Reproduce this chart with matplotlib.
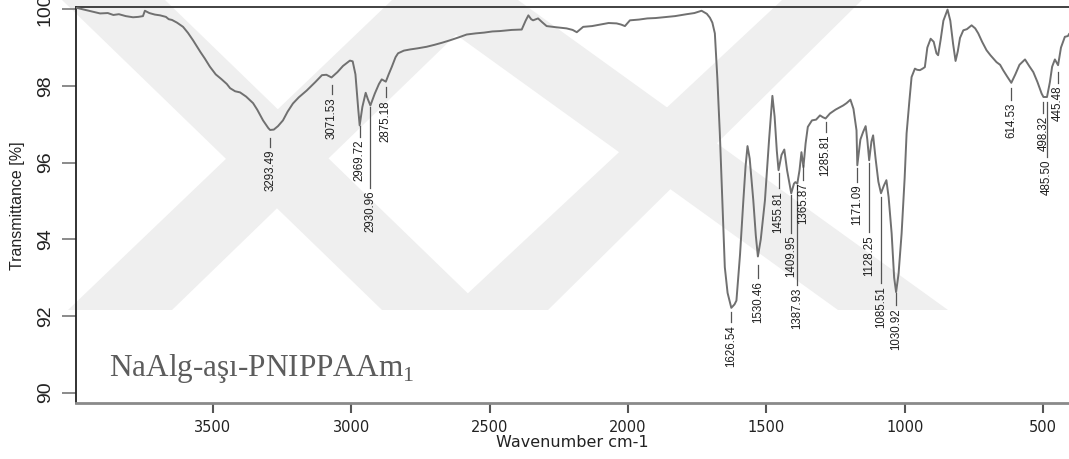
import numpy as np
import matplotlib
matplotlib.use("Agg")
import matplotlib.pyplot as plt
from matplotlib.patches import Polygon
from matplotlib.transforms import offset_copy

plt.rcParams["mathtext.fontset"] = "custom"
plt.rcParams["mathtext.rm"] = "Liberation Serif"

# FTIR spectrum (wavenumber cm-1, transmittance %)
wavenumber = [3995, 3960, 3930, 3908, 3880, 3860, 3840, 3815, 3789, 3770, 3753, 3746,
              3730, 3710, 3691, 3670, 3660, 3648, 3630, 3608, 3590, 3572, 3545, 3530,
              3511, 3490, 3470, 3450, 3438, 3420, 3402, 3380, 3355, 3340, 3319, 3300,
              3293.49, 3280, 3265, 3247, 3230, 3211, 3190, 3161, 3130, 3106, 3090,
              3071.53, 3050, 3030, 3005, 2995, 2985, 2975, 2969.72, 2960, 2948, 2940,
              2930.96, 2915, 2900, 2890, 2875.18, 2865, 2854, 2840, 2831, 2810, 2788,
              2760, 2728, 2700, 2670, 2643, 2610, 2583, 2550, 2520, 2490, 2463, 2420,
              2384, 2370, 2360, 2350, 2343, 2325, 2310, 2294, 2260, 2222, 2200, 2185,
              2162, 2130, 2100, 2070, 2041, 2025, 2011, 1993, 1960, 1930, 1900, 1860,
              1830, 1788, 1760, 1734, 1715, 1704, 1695, 1686, 1677, 1668, 1659, 1650,
              1640, 1626.54, 1615, 1608, 1595, 1583, 1575, 1568, 1560, 1547, 1538,
              1530.46, 1520, 1505, 1490, 1478, 1470, 1462, 1455.81, 1445, 1435, 1425,
              1409.95, 1400, 1395, 1387.93, 1380, 1373, 1365.87, 1358, 1350, 1335, 1320,
              1306, 1295, 1285.81, 1270, 1250, 1222, 1210, 1196, 1185, 1174, 1171.09,
              1160, 1150, 1141, 1135, 1128.25, 1120, 1114, 1105, 1095, 1085.51, 1075,
              1066, 1058, 1047, 1038, 1030.92, 1022, 1011, 1000, 993, 983, 975, 963,
              955, 945, 935, 927, 918, 906, 895, 885, 879, 870, 860, 845, 835, 825, 816,
              808, 800, 788, 775, 758, 745, 734, 720, 704, 690, 680, 668, 655, 644, 630,
              614.53, 600, 585, 565, 550, 535, 520, 505, 498.32, 485.50, 475, 467, 457,
              445.48, 435, 421, 410, 406]
transmittance = [100.04, 99.98, 99.93, 99.89, 99.90, 99.85, 99.87, 99.82, 99.79, 99.80, 99.82, 99.96,
                 99.90, 99.86, 99.84, 99.80, 99.74, 99.72, 99.65, 99.54, 99.38, 99.19, 98.88, 98.72,
                 98.50, 98.30, 98.18, 98.05, 97.94, 97.86, 97.83, 97.72, 97.55, 97.38, 97.10, 96.90,
                 96.85, 96.86, 96.95, 97.10, 97.33, 97.54, 97.70, 97.88, 98.10, 98.28, 98.29,
                 98.22, 98.36, 98.52, 98.66, 98.64, 98.30, 97.40, 96.97, 97.45, 97.82, 97.65,
                 97.49, 97.80, 98.05, 98.17, 98.11, 98.30, 98.49, 98.75, 98.85, 98.92, 98.95,
                 98.98, 99.02, 99.07, 99.13, 99.19, 99.27, 99.34, 99.37, 99.39, 99.42, 99.43, 99.46,
                 99.47, 99.70, 99.84, 99.74, 99.71, 99.76, 99.66, 99.56, 99.53, 99.50, 99.46, 99.40,
                 99.54, 99.56, 99.60, 99.64, 99.63, 99.60, 99.56, 99.71, 99.73, 99.76, 99.77, 99.80,
                 99.82, 99.87, 99.90, 99.96, 99.88, 99.78, 99.65, 99.37, 98.20, 96.76, 95.00, 93.27,
                 92.60, 92.21, 92.30, 92.40, 93.60, 95.01, 95.90, 96.43, 96.10, 95.01, 94.10,
                 93.55, 94.00, 95.01, 96.60, 97.74, 97.20, 96.30, 95.80, 96.20, 96.34, 95.80,
                 95.20, 95.45, 95.49, 95.45, 95.80, 96.27, 95.88, 96.50, 96.93, 97.10, 97.12,
                 97.23, 97.18, 97.15, 97.28, 97.38, 97.49, 97.55, 97.64, 97.40, 96.84, 95.93,
                 96.60, 96.80, 96.95, 96.60, 96.06, 96.55, 96.71, 96.10, 95.50, 95.20, 95.40,
                 95.54, 95.10, 94.15, 93.00, 92.62, 93.10, 94.15, 95.60, 96.76, 97.60, 98.23, 98.45,
                 98.42, 98.41, 98.45, 98.49, 99.00, 99.23, 99.15, 98.85, 98.80, 99.20, 99.70, 99.99,
                 99.70, 99.10, 98.65, 98.90, 99.25, 99.45, 99.48, 99.58, 99.50, 99.37, 99.15, 98.93,
                 98.80, 98.72, 98.62, 98.55, 98.41, 98.25, 98.08, 98.30, 98.55, 98.69, 98.52, 98.36,
                 98.10, 97.80, 97.71, 97.71, 98.10, 98.50, 98.69, 98.54, 99.00, 99.28, 99.30, 99.35]

# labelled peaks
peak_labels = ["3293.49", "3071.53", "2969.72", "2930.96", "2875.18", "1626.54", "1530.46",
               "1455.81", "1409.95", "1387.93", "1365.87", "1285.81", "1171.09", "1128.25",
               "1085.51", "1030.92", "614.53", "498.32", "485.50", "445.48"]
peak_wn = [float(s) for s in peak_labels]
# marker line top / bottom (in % units) under each peak
line_top = [96.64, 98.02, 96.96, 97.45, 97.97, 92.11, 93.33, 95.73, 95.16, 95.42,
            95.94, 97.06, 95.86, 95.99, 95.10, 92.60, 97.94, 97.58, 97.58, 98.36]
line_bot = [96.41, 97.79, 96.67, 95.34, 97.71, 91.85, 92.99, 95.34, 94.17, 92.81,
            95.55, 96.80, 95.50, 94.19, 92.86, 92.28, 97.63, 97.30, 96.15, 98.08]

yticks = [90, 92, 94, 96, 98, 100]
xticks = [3500, 3000, 2500, 2000, 1500, 1000, 500]

W, H = 1069, 459
fig = plt.figure(figsize=(W / 100, H / 100), dpi=100)
fig.patch.set_facecolor("white")

# faint watermark bands behind the plot (pixel coords, y from top)
bands = [
    [(62, 0), (165, 0), (485, 310), (382, 310)],
    [(68, 310), (172, 310), (492, 0), (392, 0)],
    [(408, 0), (518, 0), (948, 310), (838, 310)],
    [(450, 310), (548, 310), (862, 0), (782, 0)],
]
for b in bands:
    pts = [(x / W, 1 - y / H) for x, y in b]
    fig.patches.append(Polygon(pts, closed=True, transform=fig.transFigure,
                               facecolor="#efefef", edgecolor="none", zorder=-5))

ax = fig.add_axes([76 / W, 1 - 403.3 / H, 1 - 76 / W, (403.3 - 7.3) / H])
ax.set_zorder(2)
ax.patch.set_alpha(0)
ax.plot(wavenumber, transmittance, color="#707070", lw=1.4, zorder=3)

ax.set_xlim(3995, 406)
ax.set_ylim(89.72, 100.05)

narrow = ["Liberation Sans Narrow", "Liberation Sans", "DejaVu Sans"]

# peak markers and labels
txt_tr = offset_copy(ax.transData, fig=fig, y=-3, units="dots")
for lab, wn, t0, t1 in zip(peak_labels, peak_wn, line_top, line_bot):
    ax.plot([wn, wn], [t0, t1], color="#555555", lw=0.9, zorder=3)
    ax.text(wn, t1, lab, rotation=90, ha="center", va="top", fontsize=8.3,
            family=narrow, color="#1e1e1e", transform=txt_tr, zorder=4)

ax.text(109, H - 376, "NaAlg-aşı-PNIPPAAm$_1$", transform=None, fontsize=22.5,
        family=["Liberation Serif", "DejaVu Serif"], color="#5c5c5c", ha="left",
        va="baseline")

ax.spines["right"].set_visible(False)
ax.spines["left"].set_color("#222222")
ax.spines["left"].set_linewidth(1.3)
ax.spines["top"].set_color("#333333")
ax.spines["top"].set_linewidth(1.3)
ax.spines["bottom"].set_color("#8a8a8a")
ax.spines["bottom"].set_linewidth(2)

ax.set_yticks(yticks)
ax.set_yticklabels([str(v) for v in yticks], rotation=90, va="center",
                   family=narrow, fontsize=14)
ax.tick_params(axis="y", length=10, width=1.2, color="#777777", pad=6,
               labelcolor="#222222")
ax.set_xticks(xticks)
ax.set_xticklabels([str(v) for v in xticks], family="DejaVu Sans", fontsize=10.5)
ax.tick_params(axis="x", length=7, width=1.5, color="#555555", pad=5,
               labelcolor="#222222")

fig.text(572.5 / W, 1 - 442.7 / H, "Wavenumber cm-1", ha="center", va="center",
         fontsize=11.5, family="DejaVu Sans", color="#222222")
fig.text(18 / W, 1 - 206 / H, "Transmittance [%]", ha="center", va="center",
         rotation=90, fontsize=11.5, family=narrow, color="#222222")

fig.savefig("out.png", dpi=100)
